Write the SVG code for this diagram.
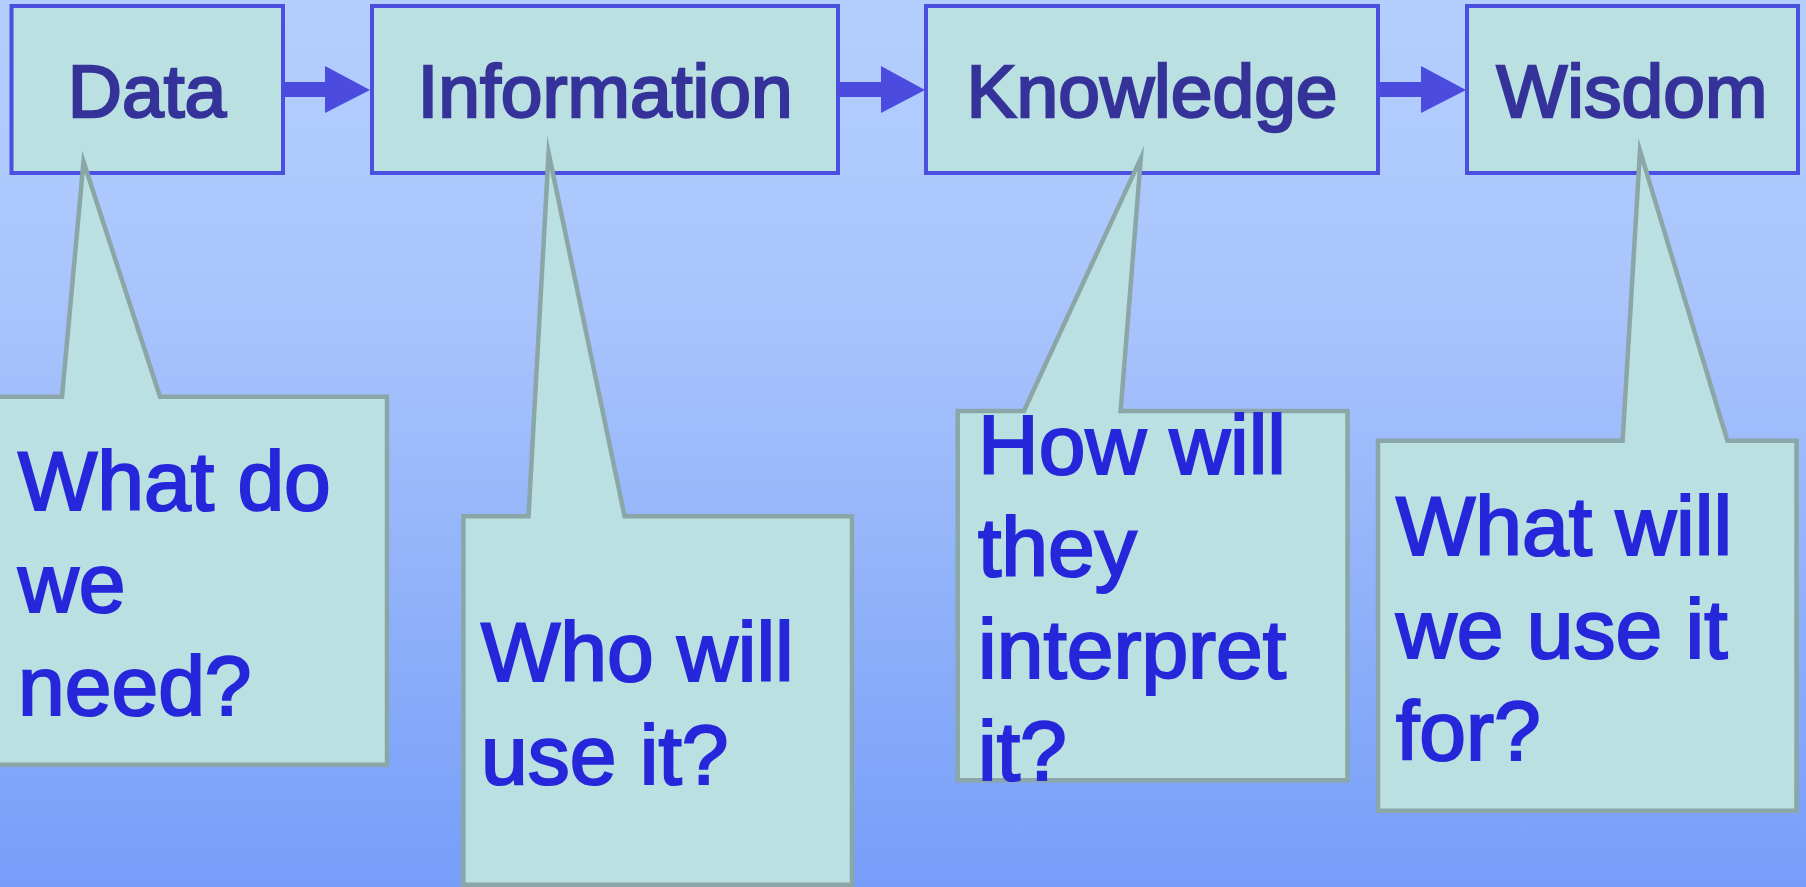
<svg xmlns="http://www.w3.org/2000/svg" width="1806" height="887" viewBox="0 0 1806 887">
<defs>
<linearGradient id="bg" x1="0" y1="0" x2="0" y2="1">
<stop offset="0" stop-color="#B4CFFD"/>
<stop offset="0.35" stop-color="#A9C4FC"/>
<stop offset="0.7" stop-color="#8EB0FA"/>
<stop offset="1" stop-color="#769EF9"/>
</linearGradient>
<style>
.box{fill:#BAE0E2;stroke:#4B4FE0;stroke-width:4}
.lbl{font-family:"Liberation Sans",Arial,sans-serif;font-size:75px;fill:#35339A;stroke:#35339A;stroke-width:2.4;text-anchor:middle}
.arr{fill:#4B4BE0}
.call{fill:#BAE0E2;stroke:#8AA6A6;stroke-width:4.5;stroke-linejoin:miter;stroke-miterlimit:20}
.q{font-family:"Liberation Sans",Arial,sans-serif;font-size:84px;fill:#2626DA;stroke:#2626DA;stroke-width:2.2}
</style>
</defs>
<rect width="1806" height="887" fill="url(#bg)"/>
<g id="node-data">
<rect class="box" x="11.5" y="6" width="271.5" height="167"/>
<text class="lbl" x="147" y="117">Data</text>
</g>
<g id="node-information">
<rect class="box" x="372" y="6" width="466" height="167"/>
<text class="lbl" x="605" y="117">Information</text>
</g>
<g id="node-knowledge">
<rect class="box" x="926" y="6" width="452" height="167"/>
<text class="lbl" x="1152" y="117">Knowledge</text>
</g>
<g id="node-wisdom">
<rect class="box" x="1467" y="6" width="331" height="167"/>
<text class="lbl" x="1632" y="117">Wisdom</text>
</g>
<g id="connectors">
<polygon class="arr" points="283,82 325,82 325,66 370,90 325,113 325,97 283,97"/>
<polygon class="arr" points="838,82 881,82 881,66 925,90 881,113 881,97 838,97"/>
<polygon class="arr" points="1378,82 1421,82 1421,66 1466,90 1421,113 1421,97 1378,97"/>
</g>
<g id="callout-data">
<path class="call" d="M-5,396.7 L62,396.7 L83.5,161.7 L160,396.7 L387,396.7 L387,764.7 L-5,764.7 Z"/>
<text class="q" x="18" y="509.7">What do</text>
<text class="q" x="18" y="612">we</text>
<text class="q" x="18" y="714.7">need?</text>
</g>
<g id="callout-information">
<path class="call" d="M463.4,516.3 L528.5,516.3 L548.6,152.7 L624.6,516.3 L852,516.3 L852,884.7 L463.4,884.7 Z"/>
<text class="q" x="481" y="681">Who will</text>
<text class="q" x="481" y="783.7">use it?</text>
</g>
<g id="callout-knowledge">
<path class="call" d="M957.7,411 L1023.9,411 L1140.8,158.3 L1120.6,411 L1347.5,411 L1347.5,780.3 L957.7,780.3 Z"/>
<text class="q" x="978" y="474">How will</text>
<text class="q" x="978" y="576.3">they</text>
<text class="q" x="978" y="678">interpret</text>
<text class="q" x="978" y="780">it?</text>
</g>
<g id="callout-wisdom">
<path class="call" d="M1378,440.7 L1622.6,440.7 L1640,150.7 L1727.4,440.7 L1796.5,440.7 L1796.5,810.7 L1378,810.7 Z"/>
<text class="q" x="1396" y="555.3">What will</text>
<text class="q" x="1396" y="658">we use it</text>
<text class="q" x="1396" y="759.7">for?</text>
</g>
</svg>
